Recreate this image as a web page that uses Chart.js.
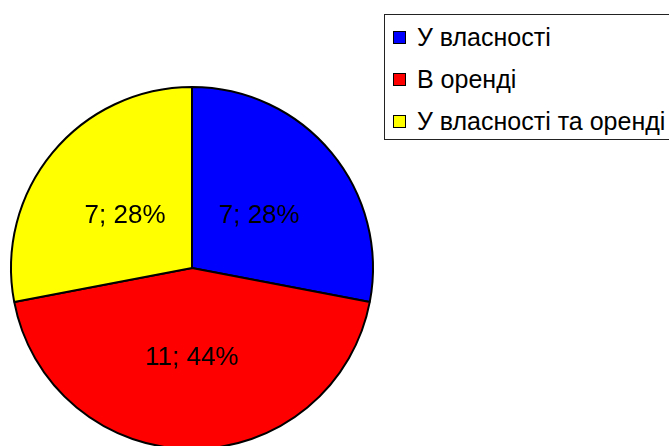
<!DOCTYPE html>
<html>
<head>
<meta charset="utf-8">
<script src="https://cdn.jsdelivr.net/npm/chart.js@4/dist/chart.umd.min.js"></script>
<style>
  html, body { margin: 0; padding: 0; background: #fff; overflow: hidden; }
  #wrap { position: relative; width: 669px; height: 446px; overflow: hidden; }
  #c { position: absolute; left: 0; top: 0; }
  #legend {
    position: absolute; left: 384px; top: 14px; width: 320px; height: 126px;
    border: 1.5px solid #222; box-sizing: border-box; background: #fff;
    font-family: "Liberation Sans", Arial, sans-serif; font-size: 25px; color: #000;
  }
  .item { position: absolute; left: 8px; height: 30px; line-height: 30px; white-space: nowrap; }
  .sw { position: absolute; left: 0; top: 9px; width: 11px; height: 11px; border: 1px solid #000; }
  .lbl { position: absolute; left: 24px; top: 0; }
</style>
</head>
<body>
<div id="wrap">
  <canvas id="c" width="669" height="460"></canvas>
  <div id="legend"></div>
</div>
<script>
const categories = ["У власності", "В оренді", "У власності та оренді"];
const values = [7, 11, 7];
const percents = [28, 44, 28];
const colors = ["#0000FF", "#FF0000", "#FFFF00"];

// HTML legend built from the arrays
const legend = document.getElementById('legend');
const rowTops = [7, 49, 91];
categories.forEach((name, i) => {
  const it = document.createElement('div');
  it.className = 'item';
  it.style.top = rowTops[i] + 'px';
  const sw = document.createElement('span');
  sw.className = 'sw';
  sw.style.background = colors[i];
  const t = document.createElement('span');
  t.className = 'lbl';
  t.textContent = name;
  it.appendChild(sw); it.appendChild(t);
  legend.appendChild(it);
});

const labelPlugin = {
  id: 'sliceLabels',
  afterDatasetsDraw(chart) {
    const ctx = chart.ctx;
    const meta = chart.getDatasetMeta(0);
    ctx.save();
    ctx.font = '26px "Liberation Sans", Arial, sans-serif';
    ctx.fillStyle = '#000';
    ctx.textAlign = 'center';
    ctx.textBaseline = 'middle';
    meta.data.forEach((arc, i) => {
      const p = arc.getProps(['x', 'y', 'startAngle', 'endAngle', 'outerRadius'], true);
      const mid = (p.startAngle + p.endAngle) / 2;
      const r = p.outerRadius * 0.48;
      const x = p.x + Math.cos(mid) * r;
      const y = p.y + Math.sin(mid) * r + 3;
      ctx.fillText(values[i] + '; ' + percents[i] + '%', x, y);
    });
    ctx.restore();
  }
};

new Chart(document.getElementById('c'), {
  type: 'pie',
  data: {
    labels: categories,
    datasets: [{
      data: values,
      backgroundColor: colors,
      borderColor: '#000',
      borderWidth: 2
    }]
  },
  options: {
    responsive: false,
    animation: false,
    devicePixelRatio: 1,
    layout: { padding: { left: 10, right: 295, top: 85, bottom: 9 } },
    plugins: { legend: { display: false }, tooltip: { enabled: false } }
  },
  plugins: [labelPlugin]
});
</script>
</body>
</html>
